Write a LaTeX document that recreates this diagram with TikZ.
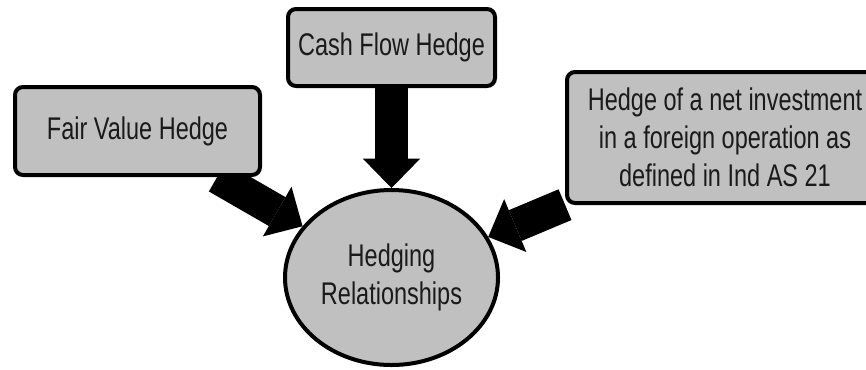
\documentclass[tikz,border=0pt]{standalone}
\usepackage{fontspec}
\setmainfont[FakeStretch=0.75]{Liberation Sans}
\usetikzlibrary{shapes.geometric,arrows.meta,backgrounds}
\definecolor{boxgray}{RGB}{192,192,192}
\definecolor{textgray}{RGB}{26,26,26}
\tikzset{
    hbox/.style={draw,line width=3pt,rounded corners=6pt,fill=boxgray,inner sep=0pt,align=center,text=textgray,font=\fontsize{23.5}{28.5}\selectfont},
    hell/.style={ellipse,draw,line width=3pt,fill=boxgray,inner sep=0pt,align=center,text=textgray,font=\fontsize{23.5}{28.5}\selectfont},
    harrow/.style={line width=25pt,-{Triangle[width=43pt,length=22pt,line width=0pt]}}
}
\begin{document}
\begin{tikzpicture}[x=0.75pt,y=-0.75pt]
        \useasboundingbox (0,0) rectangle (866,369);
        \node [hell,minimum width=159.75pt,minimum height=131.25pt] (hr) at (391.5,277.5) {Hedging\\Relationships};
        \node [hbox,minimum width=183.75pt,minimum height=66pt] (fv) at (137.5,131) {Fair Value Hedge};
        \node [hbox,minimum width=155.25pt,minimum height=57.75pt] (cf) at (391.5,47.5) {Cash Flow Hedge};
        \node [hbox,minimum width=237pt,minimum height=98.25pt] (ni) at (725,137.5) {Hedge of a net investment\\in a foreign operation as\\defined in Ind AS 21};
        \begin{pgfonlayer}{background}
            \draw [harrow] (fv) -- (hr);
            \draw [harrow] (cf) -- (hr);
            \draw [harrow] (ni) -- (hr);
        \end{pgfonlayer}
    \end{tikzpicture}
\end{document}
